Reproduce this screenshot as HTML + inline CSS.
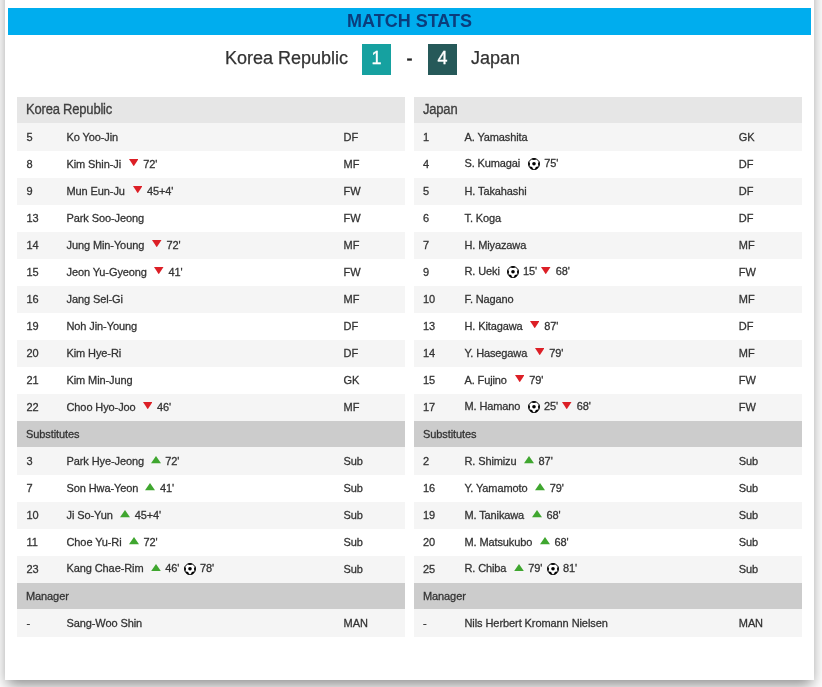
<!DOCTYPE html>
<html lang="en"><head><meta charset="utf-8"><title>Match Stats</title>
<style>
html,body{margin:0;padding:0;background:#fff;}
body{width:822px;height:687px;overflow:hidden;position:relative;font-family:"Liberation Sans",sans-serif;color:#333;}
.card{position:absolute;left:5px;top:-30px;width:809px;height:710px;background:#fff;box-shadow:0 7px 14px -2px rgba(0,0,0,.46);}
.bar{position:absolute;left:3px;top:38px;width:803px;height:27px;background:#00adee;color:#0b3d7c;font-weight:bold;font-size:18px;line-height:26px;text-align:center;}
.sc{position:absolute;left:0;top:74px;width:809px;height:31px;font-size:18px;line-height:29px;color:#333;-webkit-text-stroke:0.25px #333;}
.sc span{position:absolute;top:0;white-space:nowrap;}
.t1{left:220px;}
.t2{left:466px;}
.bx{width:29px;height:31px;color:#fff;text-align:center;-webkit-text-stroke:0.3px #fff;}
.b1{left:357px;background:#16a1a0;}
.b2{left:423px;background:#265959;}
.sc .dash{left:401.5px;top:1px;-webkit-text-stroke:0.5px #222;color:#222;}
.t{position:absolute;top:127px;width:388px;border-collapse:collapse;border-spacing:0;table-layout:fixed;font-size:11px;letter-spacing:-0.1px;-webkit-text-stroke:0.28px #333;}
.L{left:12px;}
.R{left:409px;}
.c1{width:49px;}.c2{width:277px;}.c3{width:62px;}
.t td{padding:0 0 2px 0;height:25px;vertical-align:middle;white-space:nowrap;overflow:hidden;}
.t .n{padding-left:9.5px;}
.L .p{padding-left:0.5px;}
.R .nm{letter-spacing:-0.12px;}
.R tr:last-child .nm{letter-spacing:-0.08px;}
.L .o{padding-left:0.6px;}
.R .n{padding-left:9px;}
.R .p{padding-left:1.5px;}
.R .o{padding-left:0;text-indent:-0.2px;}
.R .c2{width:276px;}.R .c3{width:63px;}
tr.h td{background:#e6e6e6;font-size:13px;padding-left:9px;height:23px;padding-bottom:3px;border-bottom:1px solid #f5f5f5;letter-spacing:-0.2px;color:#444;}
tr.h td span{display:inline-block;transform:scaleY(1.1);transform-origin:50% 19%;}
tr.s td{background:#cccccc;padding-left:9px;height:26px;padding-bottom:0;border-bottom:1px solid #f5f5f5;}
tr.a td{background:#f5f5f5;}
tr.w td{background:#fff;}
.nm{display:inline-block;}
.ic{display:inline-block;vertical-align:middle;}
.ic.d{width:9.5px;height:7.3px;margin:-4px 4.9px 0 0;}
.ic.u{width:10px;height:7.3px;margin:-4px 4.6px 0 -0.2px;position:relative;top:0.4px;}
.ic.b{width:12px;height:12px;margin:-1px 4.2px 0 0;}
.m+.ic{margin-left:4.5px;}

</style></head><body>
<div class="card">
<div class="bar">MATCH STATS</div>
<div class="sc">
<span class="tn t1">Korea Republic</span>
<span class="bx b1">1</span>
<span class="dash">-</span>
<span class="bx b2">4</span>
<span class="tn t2">Japan</span>
</div>
<table class="t L"><colgroup><col class="c1"><col class="c2"><col class="c3"></colgroup><tr class="h"><td colspan="3"><span>Korea Republic</span></td></tr>
<tr class="a"><td class="n">5</td><td class="p"><span class="nm">Ko Yoo-Jin</span></td><td class="o">DF</td></tr>
<tr class="w"><td class="n">8</td><td class="p"><span class="nm" style="width:62.3px">Kim Shin-Ji</span><svg class="ic d" viewBox="0 0 9.5 7.3" preserveAspectRatio="none"><path d="M0 0H9.5L4.75 7.3Z" fill="#dc1f26"/></svg><span class="m md">72'</span></td><td class="o">MF</td></tr>
<tr class="a"><td class="n">9</td><td class="p"><span class="nm" style="width:66.1px">Mun Eun-Ju</span><svg class="ic d" viewBox="0 0 9.5 7.3" preserveAspectRatio="none"><path d="M0 0H9.5L4.75 7.3Z" fill="#dc1f26"/></svg><span class="m md">45+4'</span></td><td class="o">FW</td></tr>
<tr class="w"><td class="n">13</td><td class="p"><span class="nm">Park Soo-Jeong</span></td><td class="o">FW</td></tr>
<tr class="a"><td class="n">14</td><td class="p"><span class="nm" style="width:85.6px">Jung Min-Young</span><svg class="ic d" viewBox="0 0 9.5 7.3" preserveAspectRatio="none"><path d="M0 0H9.5L4.75 7.3Z" fill="#dc1f26"/></svg><span class="m md">72'</span></td><td class="o">MF</td></tr>
<tr class="w"><td class="n">15</td><td class="p"><span class="nm" style="width:87.5px">Jeon Yu-Gyeong</span><svg class="ic d" viewBox="0 0 9.5 7.3" preserveAspectRatio="none"><path d="M0 0H9.5L4.75 7.3Z" fill="#dc1f26"/></svg><span class="m md">41'</span></td><td class="o">FW</td></tr>
<tr class="a"><td class="n">16</td><td class="p"><span class="nm">Jang Sel-Gi</span></td><td class="o">MF</td></tr>
<tr class="w"><td class="n">19</td><td class="p"><span class="nm">Noh Jin-Young</span></td><td class="o">DF</td></tr>
<tr class="a"><td class="n">20</td><td class="p"><span class="nm">Kim Hye-Ri</span></td><td class="o">DF</td></tr>
<tr class="w"><td class="n">21</td><td class="p"><span class="nm">Kim Min-Jung</span></td><td class="o">GK</td></tr>
<tr class="a"><td class="n">22</td><td class="p"><span class="nm" style="width:76.2px">Choo Hyo-Joo</span><svg class="ic d" viewBox="0 0 9.5 7.3" preserveAspectRatio="none"><path d="M0 0H9.5L4.75 7.3Z" fill="#dc1f26"/></svg><span class="m md">46'</span></td><td class="o">MF</td></tr>
<tr class="s"><td colspan="3">Substitutes</td></tr>
<tr class="a"><td class="n">3</td><td class="p"><span class="nm" style="width:84.4px">Park Hye-Jeong</span><svg class="ic u" viewBox="0 0 9.5 7.3" preserveAspectRatio="none"><path d="M0 7.3H9.5L4.75 0Z" fill="#3fa62f"/></svg><span class="m mu">72'</span></td><td class="o">Sub</td></tr>
<tr class="w"><td class="n">7</td><td class="p"><span class="nm" style="width:79.1px">Son Hwa-Yeon</span><svg class="ic u" viewBox="0 0 9.5 7.3" preserveAspectRatio="none"><path d="M0 7.3H9.5L4.75 0Z" fill="#3fa62f"/></svg><span class="m mu">41'</span></td><td class="o">Sub</td></tr>
<tr class="a"><td class="n">10</td><td class="p"><span class="nm" style="width:53.8px">Ji So-Yun</span><svg class="ic u" viewBox="0 0 9.5 7.3" preserveAspectRatio="none"><path d="M0 7.3H9.5L4.75 0Z" fill="#3fa62f"/></svg><span class="m mu">45+4'</span></td><td class="o">Sub</td></tr>
<tr class="w"><td class="n">11</td><td class="p"><span class="nm" style="width:62.6px">Choe Yu-Ri</span><svg class="ic u" viewBox="0 0 9.5 7.3" preserveAspectRatio="none"><path d="M0 7.3H9.5L4.75 0Z" fill="#3fa62f"/></svg><span class="m mu">72'</span></td><td class="o">Sub</td></tr>
<tr class="a"><td class="n">23</td><td class="p"><span class="nm" style="width:84.4px">Kang Chae-Rim</span><svg class="ic u" viewBox="0 0 9.5 7.3" preserveAspectRatio="none"><path d="M0 7.3H9.5L4.75 0Z" fill="#3fa62f"/></svg><span class="m mu">46'</span><svg class="ic b" viewBox="0 0 12 12"><circle cx="6" cy="6" r="5.5" fill="#fff" stroke="#000" stroke-width="0.9"/><circle cx="6" cy="5.8" r="1.8" fill="#000"/><path d="M3.3 1.2Q6 -0.5 8.7 1.2Q6 2.6 3.3 1.2Z M0.8 3.2L2.1 5.8L1.3 8.5Q-0.3 6 0.8 3.2Z M11.2 3.2L9.9 5.8L10.7 8.5Q12.3 6 11.2 3.2Z M1.4 8.3L4.2 9L5.3 11.8Q2.2 11.5 1.4 8.3Z M10.6 8.3L7.8 9L6.7 11.8Q9.8 11.5 10.6 8.3Z" fill="#000"/></svg><span class="m mb">78'</span></td><td class="o">Sub</td></tr>
<tr class="s"><td colspan="3">Manager</td></tr>
<tr class="a"><td class="n">-</td><td class="p"><span class="nm">Sang-Woo Shin</span></td><td class="o">MAN</td></tr>
</table>
<table class="t R"><colgroup><col class="c1"><col class="c2"><col class="c3"></colgroup><tr class="h"><td colspan="3"><span>Japan</span></td></tr>
<tr class="a"><td class="n">1</td><td class="p"><span class="nm">A. Yamashita</span></td><td class="o">GK</td></tr>
<tr class="w"><td class="n">4</td><td class="p"><span class="nm" style="width:63.5px">S. Kumagai</span><svg class="ic b" viewBox="0 0 12 12"><circle cx="6" cy="6" r="5.5" fill="#fff" stroke="#000" stroke-width="0.9"/><circle cx="6" cy="5.8" r="1.8" fill="#000"/><path d="M3.3 1.2Q6 -0.5 8.7 1.2Q6 2.6 3.3 1.2Z M0.8 3.2L2.1 5.8L1.3 8.5Q-0.3 6 0.8 3.2Z M11.2 3.2L9.9 5.8L10.7 8.5Q12.3 6 11.2 3.2Z M1.4 8.3L4.2 9L5.3 11.8Q2.2 11.5 1.4 8.3Z M10.6 8.3L7.8 9L6.7 11.8Q9.8 11.5 10.6 8.3Z" fill="#000"/></svg><span class="m mb">75'</span></td><td class="o">DF</td></tr>
<tr class="a"><td class="n">5</td><td class="p"><span class="nm">H. Takahashi</span></td><td class="o">DF</td></tr>
<tr class="w"><td class="n">6</td><td class="p"><span class="nm">T. Koga</span></td><td class="o">DF</td></tr>
<tr class="a"><td class="n">7</td><td class="p"><span class="nm">H. Miyazawa</span></td><td class="o">MF</td></tr>
<tr class="w"><td class="n">9</td><td class="p"><span class="nm" style="width:42.2px">R. Ueki</span><svg class="ic b" viewBox="0 0 12 12"><circle cx="6" cy="6" r="5.5" fill="#fff" stroke="#000" stroke-width="0.9"/><circle cx="6" cy="5.8" r="1.8" fill="#000"/><path d="M3.3 1.2Q6 -0.5 8.7 1.2Q6 2.6 3.3 1.2Z M0.8 3.2L2.1 5.8L1.3 8.5Q-0.3 6 0.8 3.2Z M11.2 3.2L9.9 5.8L10.7 8.5Q12.3 6 11.2 3.2Z M1.4 8.3L4.2 9L5.3 11.8Q2.2 11.5 1.4 8.3Z M10.6 8.3L7.8 9L6.7 11.8Q9.8 11.5 10.6 8.3Z" fill="#000"/></svg><span class="m mb">15'</span><svg class="ic d" viewBox="0 0 9.5 7.3" preserveAspectRatio="none"><path d="M0 0H9.5L4.75 7.3Z" fill="#dc1f26"/></svg><span class="m md">68'</span></td><td class="o">FW</td></tr>
<tr class="a"><td class="n">10</td><td class="p"><span class="nm">F. Nagano</span></td><td class="o">MF</td></tr>
<tr class="w"><td class="n">13</td><td class="p"><span class="nm" style="width:65.3px">H. Kitagawa</span><svg class="ic d" viewBox="0 0 9.5 7.3" preserveAspectRatio="none"><path d="M0 0H9.5L4.75 7.3Z" fill="#dc1f26"/></svg><span class="m md">87'</span></td><td class="o">DF</td></tr>
<tr class="a"><td class="n">14</td><td class="p"><span class="nm" style="width:70.4px">Y. Hasegawa</span><svg class="ic d" viewBox="0 0 9.5 7.3" preserveAspectRatio="none"><path d="M0 0H9.5L4.75 7.3Z" fill="#dc1f26"/></svg><span class="m md">79'</span></td><td class="o">MF</td></tr>
<tr class="w"><td class="n">15</td><td class="p"><span class="nm" style="width:50.3px">A. Fujino</span><svg class="ic d" viewBox="0 0 9.5 7.3" preserveAspectRatio="none"><path d="M0 0H9.5L4.75 7.3Z" fill="#dc1f26"/></svg><span class="m md">79'</span></td><td class="o">FW</td></tr>
<tr class="a"><td class="n">17</td><td class="p"><span class="nm" style="width:63.2px">M. Hamano</span><svg class="ic b" viewBox="0 0 12 12"><circle cx="6" cy="6" r="5.5" fill="#fff" stroke="#000" stroke-width="0.9"/><circle cx="6" cy="5.8" r="1.8" fill="#000"/><path d="M3.3 1.2Q6 -0.5 8.7 1.2Q6 2.6 3.3 1.2Z M0.8 3.2L2.1 5.8L1.3 8.5Q-0.3 6 0.8 3.2Z M11.2 3.2L9.9 5.8L10.7 8.5Q12.3 6 11.2 3.2Z M1.4 8.3L4.2 9L5.3 11.8Q2.2 11.5 1.4 8.3Z M10.6 8.3L7.8 9L6.7 11.8Q9.8 11.5 10.6 8.3Z" fill="#000"/></svg><span class="m mb">25'</span><svg class="ic d" viewBox="0 0 9.5 7.3" preserveAspectRatio="none"><path d="M0 0H9.5L4.75 7.3Z" fill="#dc1f26"/></svg><span class="m md">68'</span></td><td class="o">FW</td></tr>
<tr class="s"><td colspan="3">Substitutes</td></tr>
<tr class="a"><td class="n">2</td><td class="p"><span class="nm" style="width:59.7px">R. Shimizu</span><svg class="ic u" viewBox="0 0 9.5 7.3" preserveAspectRatio="none"><path d="M0 7.3H9.5L4.75 0Z" fill="#3fa62f"/></svg><span class="m mu">87'</span></td><td class="o">Sub</td></tr>
<tr class="w"><td class="n">16</td><td class="p"><span class="nm" style="width:70.8px">Y. Yamamoto</span><svg class="ic u" viewBox="0 0 9.5 7.3" preserveAspectRatio="none"><path d="M0 7.3H9.5L4.75 0Z" fill="#3fa62f"/></svg><span class="m mu">79'</span></td><td class="o">Sub</td></tr>
<tr class="a"><td class="n">19</td><td class="p"><span class="nm" style="width:67.5px">M. Tanikawa</span><svg class="ic u" viewBox="0 0 9.5 7.3" preserveAspectRatio="none"><path d="M0 7.3H9.5L4.75 0Z" fill="#3fa62f"/></svg><span class="m mu">68'</span></td><td class="o">Sub</td></tr>
<tr class="w"><td class="n">20</td><td class="p"><span class="nm" style="width:75.6px">M. Matsukubo</span><svg class="ic u" viewBox="0 0 9.5 7.3" preserveAspectRatio="none"><path d="M0 7.3H9.5L4.75 0Z" fill="#3fa62f"/></svg><span class="m mu">68'</span></td><td class="o">Sub</td></tr>
<tr class="a"><td class="n">25</td><td class="p"><span class="nm" style="width:49.4px">R. Chiba</span><svg class="ic u" viewBox="0 0 9.5 7.3" preserveAspectRatio="none"><path d="M0 7.3H9.5L4.75 0Z" fill="#3fa62f"/></svg><span class="m mu">79'</span><svg class="ic b" viewBox="0 0 12 12"><circle cx="6" cy="6" r="5.5" fill="#fff" stroke="#000" stroke-width="0.9"/><circle cx="6" cy="5.8" r="1.8" fill="#000"/><path d="M3.3 1.2Q6 -0.5 8.7 1.2Q6 2.6 3.3 1.2Z M0.8 3.2L2.1 5.8L1.3 8.5Q-0.3 6 0.8 3.2Z M11.2 3.2L9.9 5.8L10.7 8.5Q12.3 6 11.2 3.2Z M1.4 8.3L4.2 9L5.3 11.8Q2.2 11.5 1.4 8.3Z M10.6 8.3L7.8 9L6.7 11.8Q9.8 11.5 10.6 8.3Z" fill="#000"/></svg><span class="m mb">81'</span></td><td class="o">Sub</td></tr>
<tr class="s"><td colspan="3">Manager</td></tr>
<tr class="a"><td class="n">-</td><td class="p"><span class="nm">Nils Herbert Kromann Nielsen</span></td><td class="o">MAN</td></tr>
</table>
</div>
</body></html>
